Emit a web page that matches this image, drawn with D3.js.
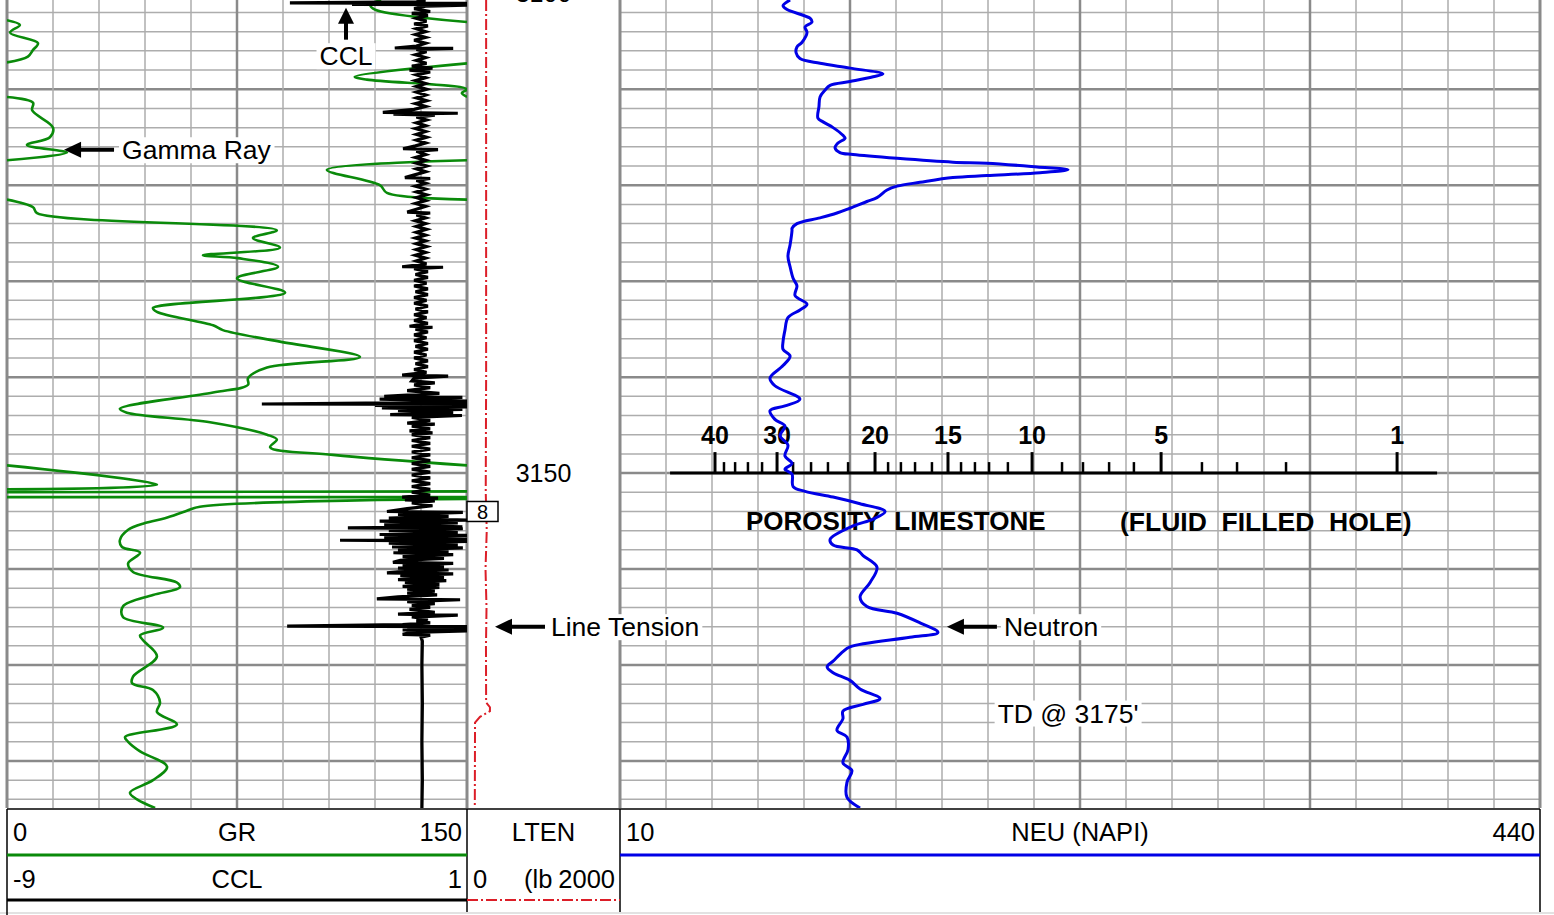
<!DOCTYPE html>
<html>
<head>
<meta charset="utf-8">
<script src="https://cdnjs.cloudflare.com/ajax/libs/d3/7.8.5/d3.min.js"></script>
<style>
	html, body { margin: 0; padding: 0; background: #fff; }
	svg { display: block; font-family: "Liberation Sans", Arial, sans-serif; }
</style>
</head>
<body>
<svg id="log"></svg>
<script>
// depth interval shown (ft) and labelled depths
const depthRange = [3100.7, 3184.9];
const depthLabels = [3100, 3150];

// curve scales
const grRange = [0, 150];
const cclRange = [-9, 1];
const ltenRange = [0, 2000];
const neuRange = [10, 440];

// porosity (limestone, fluid filled hole) ticks and their NEU (API) equivalents
const porosityTicks = [1, 2, 3, 4, 5, 6, 7, 8, 9, 10, 11, 12, 13, 14, 15, 16, 17, 18, 19, 20, 22, 24, 26, 28, 30, 32, 34, 36, 38, 40];
const porosityNeu = [373.2, 321.3, 298.4, 282.0, 262.9, 250.2, 238.6, 226.4, 216.6, 202.6, 191.3, 182.5, 175.9, 169.4, 163.3, 155.8, 147.9, 141.3, 135.3, 129.2, 116.6, 107.2, 99.3, 90.9, 83.4, 76.4, 69.8, 63.8, 58.6, 54.4];
const porosityMajor = [40, 30, 20, 15, 10, 5, 1];
const porosityLineNeu = [33.4, 391.9];

// gamma ray as plotted (wrapped into 0-150), null = pen lifted
const grTrace = [
	[3100.7, 122], [3101.2, 118.5], [3101.7, 120], [3103.0, 150], null,
	[3102.8, 0], [3103.3, 4.2], [3104.1, 1.0], [3105.2, 10.1], [3105.9, 8.5], [3106.6, 6.8], [3107.2, 0], null,
	[3107.3, 150], [3108.7, 113.4], [3109.0, 117.4], [3110.0, 150], [3110.4, 148.3], [3110.8, 150], null,
	[3110.8, 0], [3111.4, 8.5], [3112.2, 8.2], [3114.0, 15.0], [3115.0, 14.0], [3115.8, 6.5], [3116.6, 19.6], [3117.4, 0], null,
	[3117.4, 150], [3118.4, 104.3], [3120.0, 121.6], [3120.8, 123.9], [3121.5, 150], null,
	[3121.5, 0], [3122.3, 8.5], [3122.9, 9.8], [3124.7, 88.0], [3125.5, 80.2], [3126.5, 89.0], [3127.3, 63.9], [3127.6, 75.3],
	[3128.5, 88.4], [3129.7, 75.0], [3131.2, 90.7], [3132.8, 47.6], [3133.2, 48.9], [3134.6, 67.2], [3135.1, 70.4], [3136.3, 89.0],
	[3137.9, 115.1], [3139.0, 84.8], [3140.1, 78.6], [3140.8, 78.6], [3141.6, 67.2], [3143.3, 36.8], [3143.7, 39.1], [3144.7, 66.2],
	[3146.0, 84.8], [3146.5, 88.0], [3147.3, 85.8], [3148.1, 106.3], [3149.2, 150], null,
	[3149.2, 0], [3151.2, 48.9], [3151.7, 0], null,
	[3152.0, 0], [3151.9, 150], null,
	[3152.5, 0], [3152.5, 150], null,
	[3152.7, 150], [3153.5, 62.9], [3154.0, 58.0], [3154.7, 51.5], [3155.2, 45.0], [3155.9, 39.5], [3157.0, 36.8], [3157.7, 37.5],
	[3158.3, 43.4], [3159.4, 39.5], [3160.3, 41.1], [3161.4, 55.4], [3161.9, 56.4], [3162.7, 47.6], [3163.9, 37.8], [3165.0, 37.8],
	[3166.1, 50.9], [3166.9, 43.4], [3167.4, 44.3], [3169.1, 48.9], [3171.2, 41.1], [3171.9, 40.8], [3172.6, 47.6], [3173.9, 49.9],
	[3174.9, 48.9], [3176.2, 55.4], [3177.5, 38.5], [3178.0, 39.5], [3179.0, 43.4], [3180.6, 52.2], [3182.0, 47.6], [3183.3, 40.1],
	[3184.0, 42.4], [3184.9, 48.3]
];

// casing collar locator
const cclTrace = [
	[3100.7, 0.1], [3100.9, -0.1], [3101.0, -2.85], [3101.05, 1.2], [3101.15, -1.5], [3101.2, 1.2], [3101.35, 0.1], [3101.6, -0.15],
	[3101.9, 0.2], [3102.1, -0.2], [3102.3, 0.15], [3102.6, -0.1], [3102.9, 0.12], [3103.2, -0.15], [3103.4, 0.15], [3103.7, -0.1],
	[3104.0, 0.1], [3104.3, -0.12], [3104.6, 0.1], [3104.9, -0.15], [3105.2, 0.1], [3105.5, -0.1], [3105.7, -0.57], [3105.75, 0.7],
	[3105.85, -0.1], [3106.1, 0.12], [3106.4, -0.12], [3106.7, 0.1], [3107.0, -0.1], [3107.3, 0.12], [3107.6, -0.2], [3107.8, 0.25],
	[3108.0, -0.25], [3108.2, 0.2], [3108.5, -0.1], [3108.8, 0.1], [3109.1, -0.12], [3109.4, 0.1], [3109.7, -0.1], [3110.0, 0.12],
	[3110.3, -0.1], [3110.6, 0.1], [3110.9, -0.1], [3111.2, 0.12], [3111.5, -0.12], [3111.8, 0.1], [3112.1, -0.15], [3112.4, -0.83],
	[3112.5, 0.8], [3112.6, -0.6], [3112.7, 0.3], [3112.9, -0.1], [3113.2, 0.12], [3113.5, -0.1], [3113.8, 0.1], [3114.1, -0.12],
	[3114.4, 0.1], [3114.7, -0.1], [3115.0, 0.12], [3115.3, -0.1], [3115.6, 0.1], [3115.9, -0.12], [3116.2, -0.39], [3116.3, 0.37],
	[3116.45, -0.1], [3116.8, 0.1], [3117.1, -0.12], [3117.4, 0.1], [3117.7, -0.1], [3118.0, 0.12], [3118.3, -0.1], [3118.6, 0.1],
	[3118.9, -0.12], [3119.2, -0.35], [3119.3, 0.2], [3119.5, -0.1], [3119.8, 0.1], [3120.1, -0.12], [3120.4, 0.1], [3120.7, -0.1],
	[3121.0, 0.12], [3121.3, -0.1], [3121.6, 0.1], [3121.9, -0.12], [3122.2, 0.1], [3122.5, -0.1], [3122.8, -0.3], [3122.9, 0.2],
	[3123.1, -0.1], [3123.4, 0.1], [3123.7, -0.12], [3124.0, 0.1], [3124.3, -0.1], [3124.6, 0.12], [3124.9, -0.1], [3125.2, 0.1],
	[3125.5, -0.12], [3125.8, 0.1], [3126.1, -0.1], [3126.4, 0.12], [3126.7, -0.1], [3127.0, 0.1], [3127.3, -0.12], [3127.6, 0.1],
	[3127.9, -0.1], [3128.2, 0.12], [3128.5, -0.41], [3128.55, 0.48], [3128.7, -0.15], [3129.0, 0.15], [3129.3, -0.12], [3129.6, 0.15],
	[3129.9, -0.15], [3130.2, 0.12], [3130.5, -0.15], [3130.8, 0.15], [3131.1, -0.12], [3131.4, 0.15], [3131.7, -0.15], [3132.0, 0.12],
	[3132.3, -0.15], [3132.6, 0.15], [3132.9, -0.12], [3133.2, 0.15], [3133.5, -0.15], [3133.8, 0.12], [3134.1, -0.15], [3134.4, 0.15],
	[3134.7, -0.25], [3134.8, 0.25], [3135.0, -0.12], [3135.3, 0.15], [3135.6, -0.15], [3135.9, 0.12], [3136.2, -0.15], [3136.5, 0.15],
	[3136.8, -0.12], [3137.1, 0.15], [3137.4, -0.15], [3137.7, 0.12], [3138.0, -0.15], [3138.3, 0.15], [3138.6, -0.12], [3138.9, 0.15],
	[3139.2, -0.15], [3139.5, 0.12], [3139.8, -0.41], [3139.9, 0.59], [3140.1, -0.15], [3140.4, -0.2], [3140.6, 0.3], [3140.8, -0.15],
	[3141.1, 0.2], [3141.4, -0.3], [3141.7, 0.4], [3142.0, -0.8], [3142.1, 0.9], [3142.3, -0.9], [3142.5, 1.0], [3142.7, -1.2],
	[3142.8, -3.46], [3142.85, 1.2], [3142.95, -1.0], [3143.1, 1.1], [3143.2, -0.85], [3143.35, 0.9], [3143.5, -0.5], [3143.7, 0.7],
	[3143.9, -0.67], [3144.0, 0.89], [3144.2, -0.2], [3144.5, 0.2], [3144.8, -0.3], [3144.9, 0.3], [3145.1, -0.2], [3145.4, 0.2],
	[3145.6, -0.25], [3145.8, 0.25], [3146.0, -0.2], [3146.3, 0.2], [3146.6, -0.2], [3146.9, 0.2], [3147.2, -0.2], [3147.5, 0.2],
	[3147.8, -0.2], [3148.1, 0.2], [3148.4, -0.2], [3148.7, 0.2], [3149.0, -0.2], [3149.3, 0.2], [3149.6, -0.2], [3149.9, 0.2],
	[3150.2, -0.2], [3150.5, 0.2], [3150.8, -0.2], [3151.1, 0.2], [3151.4, -0.2], [3151.7, 0.2], [3152.0, -0.2], [3152.3, 0.2],
	[3152.5, -0.41], [3152.6, 0.37], [3152.8, -0.35], [3152.9, 0.3], [3153.1, -0.2], [3153.4, 0.25], [3153.7, -0.3], [3154.0, -0.74],
	[3154.1, 0.91], [3154.3, -0.5], [3154.5, 0.6], [3154.7, -0.7], [3154.9, 1.0], [3155.0, -0.9], [3155.2, 0.8], [3155.4, -0.8],
	[3155.6, 0.9], [3155.7, -1.59], [3155.8, 0.91], [3156.0, -0.7], [3156.2, 0.8], [3156.4, -0.9], [3156.5, 1.0], [3156.7, -0.8],
	[3156.9, 1.1], [3157.0, -1.76], [3157.1, 1.1], [3157.3, -0.7], [3157.5, 0.8], [3157.7, -0.63], [3157.8, 0.91], [3158.0, -0.5],
	[3158.2, 0.6], [3158.3, -0.6], [3158.5, 0.7], [3158.7, -0.4], [3158.9, 0.5], [3159.1, -0.45], [3159.3, -0.61], [3159.4, 0.7],
	[3159.6, -0.4], [3159.8, 0.5], [3159.9, -0.5], [3160.1, 0.6], [3160.3, -0.5], [3160.4, -0.74], [3160.5, 0.7], [3160.7, -0.45],
	[3160.9, 0.5], [3161.1, -0.5], [3161.2, 0.55], [3161.4, -0.35], [3161.6, 0.4], [3161.8, -0.4], [3161.9, 0.4], [3162.1, -0.3],
	[3162.3, 0.3], [3162.5, -0.3], [3162.7, 0.35], [3162.9, -0.5], [3163.1, -0.96], [3163.2, 0.85], [3163.4, -0.3], [3163.6, 0.3],
	[3163.8, -0.2], [3164.0, 0.2], [3164.2, -0.25], [3164.5, 0.3], [3164.7, -0.5], [3164.8, 0.8], [3165.0, -0.2], [3165.2, 0.15],
	[3165.4, -0.1], [3165.6, 0.2], [3165.8, -0.4], [3165.95, -2.91], [3166.0, 1.2], [3166.1, -0.3], [3166.2, 1.2], [3166.35, -0.4],
	[3166.45, 1.0], [3166.6, -0.2], [3166.8, -0.4], [3166.9, 0.2], [3167.1, 0.0], [3167.5, 0.03], [3170, 0.02],
	[3174, 0.03], [3178, 0.02], [3182, 0.03], [3184.9, 0.02]
];

// line tension (lb)
const ltenTrace = [
	[3100.7, 250], [3140, 250], [3152, 245], [3156, 258], [3160, 242], [3164, 255], [3168, 248], [3173.9, 250],
	[3174.4, 300], [3174.8, 300], [3175.4, 170], [3176.0, 105], [3184.9, 102]
];

// neutron (API)
const neuTrace = [
	[3100.7, 89.5], [3101.3, 86.2], [3101.7, 88.1], [3102.6, 98.8], [3103.0, 99.7], [3103.5, 96.5], [3104.1, 97.4], [3105.1, 95.1],
	[3105.6, 92.7], [3106.2, 92.3], [3106.8, 94.1], [3107.3, 103.5], [3107.8, 117.5], [3108.4, 132.9], [3108.7, 128.3], [3109.2, 117.5],
	[3109.6, 108.2], [3110.1, 105.8], [3110.8, 103.5], [3111.8, 103.0], [3113.0, 102.5], [3113.4, 104.9], [3114.0, 109.6], [3114.8, 114.2],
	[3115.1, 115.2], [3115.6, 111.9], [3116.1, 110.5], [3116.6, 112.8], [3116.8, 118.9], [3117.2, 139.5], [3117.6, 165.6], [3117.7, 181.5],
	[3118.1, 204.9], [3118.4, 219.4], [3118.7, 206.3], [3119.0, 181.5], [3119.2, 165.6], [3119.7, 150.2], [3120.1, 139.5], [3120.5, 134.8],
	[3121.3, 130.1], [3121.7, 125.4], [3122.4, 117.5], [3122.9, 111.4], [3123.4, 103.5], [3124.0, 92.7], [3124.5, 90.4], [3124.7, 90.4],
	[3126.2, 89.5], [3127.4, 88.5], [3128.5, 89.5], [3129.7, 90.9], [3130.5, 92.7], [3131.5, 91.8], [3132.4, 97.4], [3133.0, 94.1],
	[3133.8, 88.5], [3135.1, 87.1], [3136.3, 86.2], [3137.1, 86.2], [3137.8, 89.5], [3138.8, 86.2], [3140.1, 80.1], [3140.9, 82.4],
	[3142.3, 94.1], [3143.0, 87.1], [3143.5, 80.1], [3144.4, 82.4], [3145.1, 87.1], [3146.1, 84.8], [3147.1, 88.5], [3148.2, 87.1],
	[3149.0, 90.4], [3149.6, 87.1], [3150.1, 90.4], [3151.4, 90.9], [3151.9, 96.5], [3152.5, 109.6], [3153.2, 122.2], [3154.0, 133.9],
	[3154.8, 128.3], [3155.5, 118.9], [3156.9, 108.2], [3157.5, 109.6], [3158.0, 120.8], [3158.6, 123.6], [3159.8, 130.1], [3161.4, 126.9],
	[3162.9, 122.2], [3163.9, 125.4], [3164.6, 139.5], [3165.6, 150.2], [3166.6, 158.6], [3167.1, 145.5], [3168.1, 117.5], [3168.6, 114.2],
	[3169.6, 109.6], [3170.2, 106.8], [3170.8, 109.6], [3171.6, 117.5], [3172.5, 122.2], [3173.5, 131.5], [3174.1, 123.6], [3174.8, 114.2],
	[3175.6, 114.2], [3176.8, 111.4], [3177.5, 116.1], [3178.8, 116.6], [3180.2, 114.2], [3181.0, 118.4], [3182.2, 116.1], [3183.8, 116.1],
	[3184.9, 122.2]
];

// header texts
const grHeader = ["0", "GR", "150"];
const cclHeader = ["-9", "CCL", "1"];
const ltenHeader = ["LTEN", "0", "(lb", "2000"];
const neuHeader = ["10", "NEU (NAPI)", "440"];
const porosityTitle = ["POROSITY  LIMESTONE", "(FLUID  FILLED  HOLE)"];

document.addEventListener("DOMContentLoaded", function () {
	drawLog();
});

function drawLog() {
	const w = 1554;
	const h = 915;
	const logBottom = 808; // end of the depth grid
	const track1 = [7, 467];
	const track2 = [467, 620];
	const track3 = [620, 1540];

	const svg = d3.select("#log").attr("width", w).attr("height", h);
	svg.append("rect").attr("width", w).attr("height", h).attr("fill", "#fff");

	// scales
	const yScale = d3.scaleLinear().domain(depthRange).range([0, logBottom]);
	const grScale = d3.scaleLinear().domain(grRange).range(track1);
	const cclScale = d3.scaleLinear().domain(cclRange).range(track1);
	const ltenScale = d3.scaleLinear().domain(ltenRange).range(track2);
	const neuScale = d3.scaleLinear().domain(neuRange).range(track3);
	const porScale = d3.scaleLinear().domain(porosityTicks).range(porosityNeu); // piecewise porosity -> API

	// clip paths for the tracks
	const defs = svg.append("defs");
	[["clip1", track1], ["clip2", track2], ["clip3", track3]].forEach(([id, t]) => {
		defs.append("clipPath").attr("id", id)
			.append("rect")
			.attr("x", t[0]).attr("y", 0)
			.attr("width", t[1] - t[0]).attr("height", logBottom);
	});

	// grid
	const grid = svg.append("g").attr("id", "grid");
	const minorColor = "#adadad";
	const majorColor = "#8a8a8a";

	const depthLines = d3.range(3102, depthRange[1], 2);
	[track1, track3].forEach((t) => {
		grid.selectAll(null)
			.data(depthLines)
			.enter()
			.append("line")
			.attr("x1", t[0]).attr("x2", t[1])
			.attr("y1", (d) => yScale(d)).attr("y2", (d) => yScale(d))
			.attr("stroke", (d) => (d % 10 === 0 ? majorColor : minorColor))
			.attr("stroke-width", (d) => (d % 10 === 0 ? 2.5 : 1.5));
	});

	// verticals track 1 (15 API steps)
	const grLines = d3.range(15, 150, 15);
	grid.selectAll(null)
		.data(grLines)
		.enter()
		.append("line")
		.attr("x1", (d) => grScale(d)).attr("x2", (d) => grScale(d))
		.attr("y1", 0).attr("y2", logBottom)
		.attr("stroke", (d) => (d === 75 ? majorColor : minorColor))
		.attr("stroke-width", (d) => (d === 75 ? 2.5 : 1.5));

	// verticals track 3 (21.5 API steps)
	const neuLines = d3.range(1, 20).map((i) => neuRange[0] + i * 21.5);
	grid.selectAll(null)
		.data(neuLines)
		.enter()
		.append("line")
		.attr("x1", (d) => neuScale(d)).attr("x2", (d) => neuScale(d))
		.attr("y1", 0).attr("y2", logBottom)
		.attr("stroke", (d, i) => ((i + 1) % 5 === 0 ? majorColor : minorColor))
		.attr("stroke-width", (d, i) => ((i + 1) % 5 === 0 ? 2.5 : 1.5));

	// track borders
	[track1[0], track1[1], track2[1], track3[1]].forEach((x) => {
		grid.append("line")
			.attr("x1", x).attr("x2", x)
			.attr("y1", 0).attr("y2", logBottom)
			.attr("stroke", majorColor).attr("stroke-width", 3);
	});

	// depth labels
	svg.selectAll(".depth")
		.data(depthLabels)
		.enter()
		.append("text")
		.attr("class", "depth")
		.attr("x", (track2[0] + track2[1]) / 2)
		.attr("y", (d) => yScale(d))
		.attr("dy", "0.36em")
		.attr("text-anchor", "middle")
		.attr("font-size", 25)
		.text((d) => d);

	// porosity scale on the neutron track
	const porY = yScale(3150);
	const por = svg.append("g").attr("id", "porosity");
	por.append("line")
		.attr("x1", neuScale(porosityLineNeu[0])).attr("x2", neuScale(porosityLineNeu[1]))
		.attr("y1", porY).attr("y2", porY)
		.attr("stroke", "#000").attr("stroke-width", 3);
	por.selectAll(".ptick")
		.data(porosityTicks)
		.enter()
		.append("line")
		.attr("class", "ptick")
		.attr("x1", (d) => neuScale(porScale(d))).attr("x2", (d) => neuScale(porScale(d)))
		.attr("y1", (d) => porY - (porosityMajor.includes(d) ? 21 : 11))
		.attr("y2", porY)
		.attr("stroke", "#000")
		.attr("stroke-width", (d) => (porosityMajor.includes(d) ? 3 : 2.5));
	por.selectAll(".plabel")
		.data(porosityMajor)
		.enter()
		.append("text")
		.attr("class", "plabel")
		.attr("x", (d) => neuScale(porScale(d)))
		.attr("y", porY - 38)
		.attr("dy", "0.36em")
		.attr("text-anchor", "middle")
		.attr("font-size", 25)
		.attr("font-weight", "bold")
		.text((d) => d);
	por.append("text")
		.attr("x", 746).attr("y", porY + 48).attr("dy", "0.36em")
		.attr("font-size", 26).attr("font-weight", "bold")
		.style("white-space", "pre")
		.text(porosityTitle[0]);
	por.append("text")
		.attr("x", 1120).attr("y", porY + 48).attr("dy", "0.36em")
		.attr("font-size", 26.5).attr("font-weight", "bold")
		.style("white-space", "pre")
		.text(porosityTitle[1]);

	// curves
	const curves = svg.append("g").attr("id", "curves");

	const grLine = d3.line()
		.defined((d) => d !== null)
		.x((d) => grScale(d[1]))
		.y((d) => yScale(d[0]))
		.curve(d3.curveCatmullRom.alpha(0.5));
	curves.append("path")
		.attr("d", grLine(grTrace))
		.attr("clip-path", "url(#clip1)")
		.attr("fill", "none").attr("stroke", "#0a8a0a").attr("stroke-width", 2.6);

	const cclLine = d3.line()
		.x((d) => cclScale(d[1]))
		.y((d) => yScale(d[0]));
	curves.append("path")
		.attr("d", cclLine(cclTrace))
		.attr("clip-path", "url(#clip1)")
		.attr("fill", "none").attr("stroke", "#000").attr("stroke-width", 3.2);

	const ltenLine = d3.line()
		.x((d) => ltenScale(d[1]))
		.y((d) => yScale(d[0]));
	curves.append("path")
		.attr("d", ltenLine(ltenTrace))
		.attr("clip-path", "url(#clip2)")
		.attr("fill", "none").attr("stroke", "#dc1e28").attr("stroke-width", 2)
		.attr("stroke-dasharray", "11,3,2,3");

	const neuLine = d3.line()
		.x((d) => neuScale(d[1]))
		.y((d) => yScale(d[0]))
		.curve(d3.curveCatmullRom.alpha(0.5));
	curves.append("path")
		.attr("d", neuLine(neuTrace))
		.attr("clip-path", "url(#clip3)")
		.attr("fill", "none").attr("stroke", "#0000e6").attr("stroke-width", 3);

	// small tool marker box next to the tension curve
	const boxY = yScale(3154);
	svg.append("rect")
		.attr("x", track2[0]).attr("y", boxY - 10)
		.attr("width", 31).attr("height", 20)
		.attr("fill", "#fff").attr("stroke", "#000").attr("stroke-width", 1.5);
	svg.append("text")
		.attr("x", track2[0] + 15.5).attr("y", boxY + 1).attr("dy", "0.35em")
		.attr("text-anchor", "middle").attr("font-size", 20)
		.text("8");

	// annotations with arrows
	const notes = svg.append("g").attr("id", "notes");

	function label(text, x, y, anchor) {
		const t = notes.append("text")
			.attr("x", x).attr("y", y).attr("dy", "0.36em")
			.attr("text-anchor", anchor || "start")
			.attr("font-size", 26.5).text(text);
		const b = t.node().getBBox();
		notes.insert("rect", "text")
			.attr("x", b.x - 3).attr("y", b.y + 2)
			.attr("width", b.width + 6).attr("height", b.height - 4)
			.attr("fill", "#fff");
		return t;
	}

	function arrowLeft(tipX, y, len) {
		notes.append("line")
			.attr("x1", tipX + 14).attr("x2", tipX + len)
			.attr("y1", y).attr("y2", y)
			.attr("stroke", "#000").attr("stroke-width", 4);
		notes.append("path")
			.attr("d", `M${tipX},${y}L${tipX + 17},${y - 8}L${tipX + 17},${y + 8}Z`)
			.attr("fill", "#000");
	}

	function arrowUp(x, tipY, len) {
		notes.append("line")
			.attr("x1", x).attr("x2", x)
			.attr("y1", tipY + 14).attr("y2", tipY + len)
			.attr("stroke", "#000").attr("stroke-width", 4);
		notes.append("path")
			.attr("d", `M${x},${tipY}L${x - 8},${tipY + 16}L${x + 8},${tipY + 16}Z`)
			.attr("fill", "#000");
	}

	// CCL
	const cclX = cclScale(-1.63);
	arrowUp(cclX, yScale(3101.5), 32);
	label("CCL", cclX, yScale(3106.5), "middle");

	// Gamma Ray
	const grTipY = yScale(3116.3);
	arrowLeft(grScale(18.6), grTipY, 50);
	label("Gamma Ray", grScale(18.6) + 58, grTipY);

	// Line Tension
	const ltY = yScale(3166.0);
	arrowLeft(ltenScale(366), ltY, 50);
	label("Line Tension", ltenScale(366) + 56, ltY);

	// Neutron
	arrowLeft(neuScale(162.8), ltY, 50);
	label("Neutron", neuScale(162.8) + 57, ltY);

	// total depth
	label("TD @ 3175'", neuScale(186.5), yScale(3175));

	// header
	const head = svg.append("g").attr("id", "header");
	const hTop = 809;
	const row1 = 832;
	const row2 = 879;
	const rowLine1 = 855;
	const rowLine2 = 900;
	const hBottom = 912;

	head.append("rect")
		.attr("x", track1[0]).attr("y", hTop)
		.attr("width", track3[1] - track1[0]).attr("height", hBottom - hTop)
		.attr("fill", "#fff");
	head.append("line")
		.attr("x1", track1[0]).attr("x2", track3[1])
		.attr("y1", hTop).attr("y2", hTop)
		.attr("stroke", "#000").attr("stroke-width", 1.5);
	head.append("line")
		.attr("x1", 0).attr("x2", w)
		.attr("y1", hBottom + 1).attr("y2", hBottom + 1)
		.attr("stroke", "#d8d8d8").attr("stroke-width", 1.5);
	[track1[0], track1[1], track2[1], track3[1]].forEach((x) => {
		head.append("line")
			.attr("x1", x).attr("x2", x)
			.attr("y1", hTop).attr("y2", x === track1[0] ? h : hBottom)
			.attr("stroke", "#000").attr("stroke-width", 1.5);
	});

	// legend lines
	head.append("line")
		.attr("x1", track1[0]).attr("x2", track1[1])
		.attr("y1", rowLine1).attr("y2", rowLine1)
		.attr("stroke", "#0a8a0a").attr("stroke-width", 3);
	head.append("line")
		.attr("x1", track3[0]).attr("x2", track3[1])
		.attr("y1", rowLine1).attr("y2", rowLine1)
		.attr("stroke", "#0000e6").attr("stroke-width", 3);
	head.append("line")
		.attr("x1", track1[0]).attr("x2", track1[1])
		.attr("y1", rowLine2).attr("y2", rowLine2)
		.attr("stroke", "#000").attr("stroke-width", 3);
	head.append("line")
		.attr("x1", track2[0]).attr("x2", track2[1])
		.attr("y1", rowLine2).attr("y2", rowLine2)
		.attr("stroke", "#dc1e28").attr("stroke-width", 2)
		.attr("stroke-dasharray", "11,3,2,3");

	function htext(text, x, y, anchor) {
		head.append("text")
			.attr("x", x).attr("y", y).attr("dy", "0.36em")
			.attr("text-anchor", anchor)
			.attr("font-size", 25.5)
			.text(text);
	}
	const mid1 = (track1[0] + track1[1]) / 2;
	const mid2 = (track2[0] + track2[1]) / 2;
	const mid3 = (track3[0] + track3[1]) / 2;

	htext(grHeader[0], track1[0] + 6, row1, "start");
	htext(grHeader[1], mid1, row1, "middle");
	htext(grHeader[2], track1[1] - 5, row1, "end");
	htext(cclHeader[0], track1[0] + 6, row2, "start");
	htext(cclHeader[1], mid1, row2, "middle");
	htext(cclHeader[2], track1[1] - 5, row2, "end");

	htext(ltenHeader[0], mid2, row1, "middle");
	htext(ltenHeader[1], track2[0] + 6, row2, "start");
	htext(ltenHeader[2], track2[0] + 57, row2, "start");
	htext(ltenHeader[3], track2[1] - 5, row2, "end");

	htext(neuHeader[0], track3[0] + 6, row1, "start");
	htext(neuHeader[1], mid3, row1, "middle");
	htext(neuHeader[2], track3[1] - 5, row1, "end");
}
</script>
</body>
</html>
